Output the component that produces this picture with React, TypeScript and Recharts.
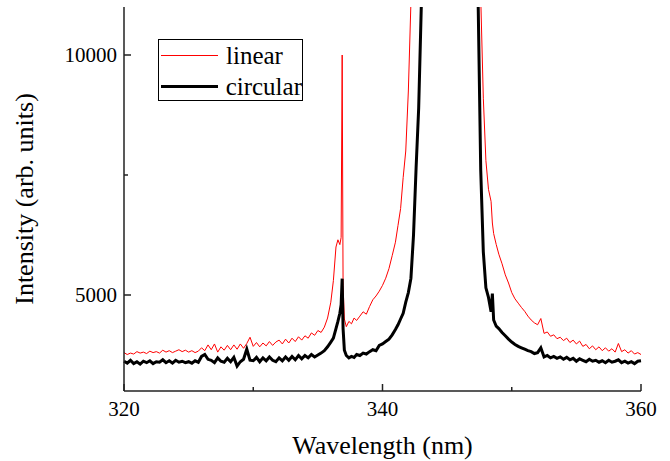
import { LineChart, Line, XAxis, YAxis, Legend, Label } from "recharts";

const wavelength = [
  320, 320.25, 320.5, 320.75, 321, 321.25, 321.5, 321.75, 322, 322.25, 322.5, 322.75,
  323, 323.25, 323.5, 323.75, 324, 324.25, 324.5, 324.75, 325, 325.25, 325.5, 325.75,
  326, 326.25, 326.5, 326.75, 327, 327.25, 327.5, 327.75, 328, 328.25, 328.5, 328.75,
  329, 329.25, 329.5, 329.75, 330, 330.25, 330.5, 330.75, 331, 331.25, 331.5, 331.75,
  332, 332.25, 332.5, 332.75, 333, 333.25, 333.5, 333.75, 334, 334.25, 334.5, 334.75,
  335, 335.25, 335.5, 335.75, 336,
  336.2, 336.4, 336.55, 336.7, 336.8, 336.88, 336.95, 337.05, 337.2, 337.4, 337.6, 337.8,
  338, 338.25, 338.5, 338.75, 339, 339.25, 339.5, 339.75, 340, 340.25, 340.5, 340.75,
  341, 341.2, 341.4, 341.6, 341.8, 342, 342.2, 342.4, 342.6, 342.8, 343, 343.3,
  343.7, 344.2, 344.7, 345.2, 345.7, 346.2, 346.7, 347.1, 347.4, 347.6, 347.8, 348,
  348.2, 348.4, 348.5, 348.6, 348.8, 349, 349.25, 349.5, 349.75, 350,
  350.25, 350.5, 350.75, 351, 351.25, 351.5, 351.75, 352, 352.25, 352.5, 352.75, 353,
  353.25, 353.5, 353.75, 354, 354.25, 354.5, 354.75, 355, 355.25, 355.5, 355.75, 356,
  356.25, 356.5, 356.75, 357, 357.25, 357.5, 357.75, 358, 358.25, 358.5, 358.75, 359,
  359.25, 359.5, 359.75, 360,
];

const linear = [
  3800, 3760, 3790, 3770, 3820, 3790, 3810, 3780, 3830, 3800, 3820, 3790,
  3850, 3810, 3840, 3800, 3830, 3860, 3820, 3850, 3810, 3840, 3800, 3830,
  3900, 3840, 3960, 3860, 3980, 3810, 3920, 3850, 3950, 3860, 3960, 3870,
  3980, 3890, 3990, 4120, 3930, 4010, 3920, 4000, 3940, 4030, 3950, 4020,
  4060, 3980, 4080, 4000, 4100, 4030, 4130, 4060, 4150, 4100, 4210, 4160,
  4260, 4220, 4330, 4520, 4850,
  5300, 6000, 6150, 6050, 6200, 10000, 5200, 4500, 4340, 4450, 4400, 4520,
  4470, 4560, 4650, 4600, 4760, 4900, 4980, 5080, 5200, 5350, 5550, 5820,
  6100, 6450, 6800, 7450, 8000, 9250, 11100, 13500, 16000, 19000, 23000, 28000,
  35000, 42000, 48000, 50000, 46000, 38000, 26000, 17000, 13000, 11200, 9100, 7800,
  7200, 6950, 6500, 6280, 6050, 5850, 5650, 5420, 5250, 5050,
  4920, 4830, 4740, 4660, 4560, 4480, 4420, 4380, 4510, 4200, 4230, 4140,
  4170, 4090, 4120, 4050, 4100, 4010, 4060, 3980, 4040, 3930, 3970, 3880,
  3940, 3860, 3920, 3840, 3900, 3830, 3880, 3810, 3990, 3820, 3860, 3790,
  3840, 3770, 3800, 3760,
];

const circular = [
  3620, 3580, 3640, 3570, 3610, 3560, 3620, 3590, 3630, 3570, 3610, 3600,
  3650, 3590, 3630, 3580, 3640, 3600, 3620, 3590, 3610, 3580, 3630, 3600,
  3720, 3760, 3660, 3640, 3590, 3690, 3620, 3600, 3680, 3610, 3700, 3520,
  3610, 3660, 3870, 3640, 3630, 3700, 3610, 3690, 3630, 3710, 3640, 3610,
  3690, 3630, 3710, 3640, 3720, 3650, 3740, 3670, 3740, 3690, 3760, 3710,
  3750, 3790, 3840, 3920, 4020,
  4100, 4300, 4450, 4620, 4800, 5340, 4300, 3850, 3740, 3690, 3720, 3700,
  3760, 3740, 3790, 3770, 3820, 3860, 3840, 3950, 3980, 4030, 4080, 4170,
  4280, 4380, 4500, 4620, 4850, 5050, 5350, 6250, 7650, 8900, 11000, 16000,
  24000, 32000, 38000, 40000, 36000, 28000, 19000, 13500, 11100, 7600, 5900, 5150,
  4950, 4650, 5030, 4480, 4350, 4300, 4220, 4150, 4080, 4020,
  3970, 3930, 3900, 3870, 3840, 3820, 3780, 3800, 3900, 3710, 3740, 3690,
  3720, 3680, 3710, 3660, 3700, 3650, 3680, 3620, 3670, 3640, 3610, 3660,
  3620, 3640, 3600, 3630, 3590, 3640, 3600, 3620, 3650, 3590, 3620, 3580,
  3610, 3570, 3620, 3630,
];

const seriesOrder = ["linear", "circular"];
const xTicks = [320, 330, 340, 350, 360];
const xLabels = [320, 340, 360];
const yTicks = [5000, 7500, 10000];
const yLabels = [5000, 10000];

const data = wavelength.map((w, i) => ({ w, linear: linear[i], circular: circular[i] }));

const font = "'Times New Roman', 'Liberation Serif', serif";
const axisColor = "#222";

const BottomTick = (props: any) => {
  const { x, y, payload } = props;
  const major = xLabels.includes(payload.value);
  return (
    <g>
      <line x1={x} x2={x} y1={y} y2={y - (major ? 7 : 4)} stroke={axisColor} strokeWidth={1.5} />
      {major && (
        <text x={x} y={y + 25} textAnchor="middle" fontSize={21} fontFamily={font} fill="#000">
          {payload.value}
        </text>
      )}
    </g>
  );
};

const TopTick = (props: any) => {
  const { x, y, payload } = props;
  const major = xLabels.includes(payload.value);
  return <line x1={x} x2={x} y1={y} y2={y + (major ? 7 : 4)} stroke={axisColor} strokeWidth={1.5} />;
};

const LeftTick = (props: any) => {
  const { x, y, payload } = props;
  const major = yLabels.includes(payload.value);
  return (
    <g>
      <line x1={x} x2={x + (major ? 7 : 4)} y1={y} y2={y} stroke={axisColor} strokeWidth={1.5} />
      {major && (
        <text x={x - 7} y={y + 7} textAnchor="end" fontSize={21} fontFamily={font} fill="#000">
          {payload.value}
        </text>
      )}
    </g>
  );
};

const RightTick = (props: any) => {
  const { x, y, payload } = props;
  const major = yLabels.includes(payload.value);
  return <line x1={x} x2={x - (major ? 7 : 4)} y1={y} y2={y} stroke={axisColor} strokeWidth={1.5} />;
};

const renderLegend = (props: any) => {
  const items = [...props.payload].sort(
    (a: any, b: any) => seriesOrder.indexOf(a.value) - seriesOrder.indexOf(b.value)
  );
  return (
    <div
      style={{
        border: "1px solid #000",
        width: 143,
        height: 60,
        background: "#fff",
        fontFamily: font,
        fontSize: 25,
      }}
    >
      {items.map((item: any) => (
        <div key={item.value} style={{ display: "flex", alignItems: "center", height: 31 }}>
          <div
            style={{
              marginLeft: 2,
              width: 57,
              height: item.payload.strokeWidth,
              background: item.color,
            }}
          />
          <span style={{ marginLeft: 8, lineHeight: "31px", color: "#000" }}>{item.value}</span>
        </div>
      ))}
    </div>
  );
};

export default function App() {
  return (
    <div style={{ position: "absolute", left: 0, top: 0 }}>
      <LineChart
        width={670}
        height={461}
        data={data}
        margin={{ top: 7, right: 29, bottom: 0, left: 0 }}
      >
        <XAxis
          dataKey="w"
          type="number"
          domain={[320, 360]}
          ticks={xTicks}
          height={70}
          tickSize={0}
          tickMargin={0}
          tick={<BottomTick />}
          stroke={axisColor}
          strokeWidth={1.5}
          interval={0}
        >
          <Label
            value="Wavelength (nm)"
            position="insideBottom"
            offset={7}
            style={{ fontSize: 26, fontFamily: font, fill: "#000" }}
          />
        </XAxis>
        <XAxis
          xAxisId="top"
          orientation="top"
          dataKey="w"
          type="number"
          domain={[320, 360]}
          ticks={xTicks}
          height={0}
          tickSize={0}
          tickMargin={0}
          tick={<TopTick />}
          stroke={axisColor}
          strokeWidth={1.5}
          interval={0}
        />
        <YAxis
          type="number"
          domain={[3000, 11000]}
          allowDataOverflow
          ticks={yTicks}
          width={124}
          tickSize={0}
          tickMargin={0}
          tick={<LeftTick />}
          stroke={axisColor}
          strokeWidth={1.5}
          interval={0}
        >
          <Label
            value="Intensity (arb. units)"
            angle={-90}
            position="insideLeft"
            offset={24}
            style={{ fontSize: 26, fontFamily: font, fill: "#000", textAnchor: "middle" }}
          />
        </YAxis>
        <YAxis
          yAxisId="right"
          orientation="right"
          type="number"
          domain={[3000, 11000]}
          allowDataOverflow
          ticks={yTicks}
          width={0}
          tickSize={0}
          tickMargin={0}
          tick={<RightTick />}
          stroke={axisColor}
          strokeWidth={1.5}
          interval={0}
        />
        <Legend
          content={renderLegend}
          layout="vertical"
          align="center"
          verticalAlign="middle"
          wrapperStyle={{ left: 158, top: 39, width: 145, height: 62 }}
        />
        <Line
          type="linear"
          dataKey="linear"
          name="linear"
          stroke="#ff0000"
          strokeWidth={1}
          dot={false}
          isAnimationActive={false}
        />
        <Line
          type="linear"
          dataKey="circular"
          name="circular"
          stroke="#000000"
          strokeWidth={3}
          dot={false}
          isAnimationActive={false}
        />
      </LineChart>
    </div>
  );
}
